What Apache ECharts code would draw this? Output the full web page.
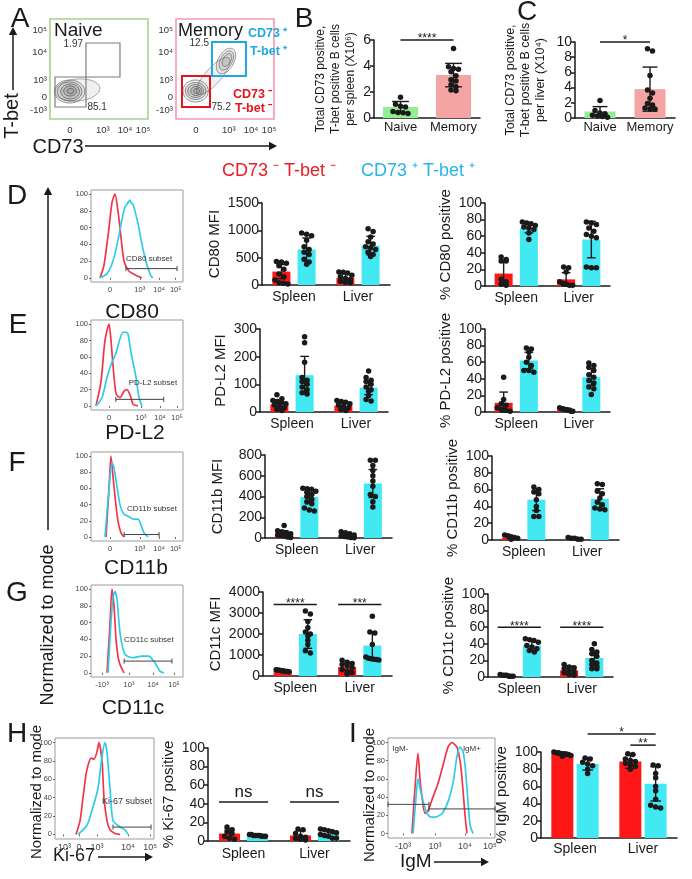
<!DOCTYPE html>
<html><head><meta charset="utf-8">
<script src="https://cdn.jsdelivr.net/npm/echarts@6/dist/echarts.min.js"></script>
<style>html,body{margin:0;padding:0;background:#fff}#c{width:692px;height:879px}</style>
</head><body><div id="c"></div>
<script>
// ================= DATA =================
const TISSUES = ['Spleen', 'Liver'];
const GROUP_NEG = 'CD73 \u207B T-bet \u207B';
const GROUP_POS = 'CD73 \u207A T-bet \u207A';

// ---- Panel A (flow plots, axis units = % of plot range) ----
const A_X_TICK_POS = [20.4, 54, 76.5, 95];
const A_X_TICK_LABELS = ['0', '10³', '10⁴', '10⁵'];
const A_Y_TICK_POS = [9, 22, 39, 67, 89];
const A_Y_TICK_LABELS = ['-10³', '0', '10³', '10⁴', '10⁵'];
// contour rings: [cx, cy, rx, ry, rotationDeg, shade]
const A_NAIVE_CONTOURS = [
  [28, 29, 23, 11, 5, 0.35], [20, 27.5, 15.5, 11.5, 0, 0.6], [20, 27.5, 12.5, 9.5, 0, 0.7],
  [20.5, 27.5, 9.5, 7.5, 0, 0.8], [20.5, 28, 6.5, 5, 0, 0.9], [21, 28, 3.5, 2.6, 0, 1]
];
const A_MEMORY_CONTOURS = [
  [38, 43, 24, 8, 48, 0.3], [20, 28, 13, 11, 0, 0.55], [20, 28, 10.5, 8.5, 0, 0.65],
  [20, 28, 8, 6.5, 0, 0.75], [20.5, 28, 5.5, 4.5, 0, 0.85], [21, 28, 3, 2.5, 0, 1],
  [51, 58, 14, 8, 60, 0.45], [51.5, 58.5, 10.5, 6, 60, 0.55], [52, 59, 7, 4, 60, 0.65]
];
// gates: [x1, y1, x2, y2]
const A_NAIVE_GATES = [[5.1, 12, 36.7, 42], [36.7, 42, 71.4, 76]];
const A_NAIVE_FREQ = [85.1, 1.97];
const A_MEMORY_GATES = [[6.1, 12, 34.7, 43], [36.7, 43, 71.4, 77]];
const A_MEMORY_FREQ = [75.2, 12.5];

// ---- Panels B, C ----
const BC_CATEGORIES = ['Naive', 'Memory'];
const B_MEAN = [0.85, 3.3];
const B_SD = [0.42, 0.9];
const B_NAIVE = [1.6, 1.05, 0.9, 0.85, 0.5, 0.42, 0.4, 0.35];
const B_MEMORY = [5.35, 3.95, 3.8, 3.75, 3.55, 3.25, 2.95, 2.85, 2.55, 2.4, 2.15, 2.1];
const B_SIG = ['****'];
const B_SIG_LEVEL = [6];
const C_MEAN = [0.85, 3.8];
const C_SD = [0.65, 2.9];
const C_NAIVE = [2.3, 1.0, 0.65, 0.55, 0.35, 0.25, 0.2, 0.1];
const C_MEMORY = [9.1, 8.8, 5.6, 3.7, 3.3, 2.6, 1.9, 1.7, 1.3, 1.2, 1.2];
const C_SIG = ['*'];
const C_SIG_LEVEL = [10];

// ---- Histograms (x = % of plot range, y = % of mode) ----
const HIST_Y_TICKS = [0, 20, 40, 60, 80, 100];
const HIST_D_X_TICKS = [20.7, 53, 74, 92];
const HIST_D_X_LABELS = ['0', '10³', '10⁴', '10⁵'];
const HIST_D_NEG = [[9.8,0],[14.1,15],[19.6,60],[22.8,90],[26.1,100],[29.3,80],[31.5,60],[35.9,20],[41.3,8],[45.7,5],[51.1,2],[55.4,0]];
const HIST_D_POS = [[9.8,0],[17.4,5],[23.9,20],[29.3,45],[33.7,70],[37,85],[39.1,88],[42.4,93],[43.5,90],[45.7,88],[48.9,75],[51.1,65],[55.4,40],[60.9,15],[65.2,2],[67.4,0]];
const HIST_D_GATE = [[38, 93.5, 11, 'CD80 subset', 38, 23]];
const HIST_E_X_TICKS = [19.6, 54.3, 75, 93.5];
const HIST_E_X_LABELS = ['0', '10³', '10⁴', '10⁵'];
const HIST_E_NEG = [[5.4,0],[10.9,30],[15.2,80],[19.6,100],[21.7,80],[23.9,50],[27.2,15],[31.5,10],[35.9,18],[39.1,20],[43.5,10],[45.7,2],[51.1,0]];
const HIST_E_POS = [[5.4,0],[12,10],[17.4,35],[21.7,50],[27.2,65],[31.5,82],[34.8,90],[38,90],[40.2,88],[43.5,65],[48.9,35],[52.2,10],[55.4,0]];
const HIST_E_GATE = [[27, 79, 8, 'PD-L2 subset', 41, 28]];
const HIST_F_X_TICKS = [20.7, 53, 74, 92];
const HIST_F_X_LABELS = ['0', '10³', '10⁴', '10⁵'];
const HIST_F_NEG = [[16.3,0],[19.6,60],[21.7,100],[23.9,75],[26.1,50],[29.3,20],[32.6,5],[35.9,0]];
const HIST_F_POS = [[15.2,0],[19.6,60],[22.8,92],[25,85],[27.2,70],[31.5,40],[35.9,28],[41.3,25],[45.7,22],[51.1,22],[54.3,15],[57.6,5],[62,0]];
const HIST_F_GATE = [[36, 74, 3, 'CD11b subset', 39, 35]];
const HIST_G_X_TICKS = [12, 41.3, 67.4, 90.2];
const HIST_G_X_LABELS = ['-10³', '10³', '10⁴', '10⁵'];
const HIST_G_NEG = [[17.4,0],[20.7,60],[22.8,100],[25,80],[27.2,40],[29.3,20],[31.5,10],[35.9,0]];
const HIST_G_POS = [[18.5,0],[21.7,60],[23.9,90],[26.1,97],[28.3,88],[30.4,60],[32.6,40],[37,22],[45.7,18],[55.4,20],[63,20],[67.4,15],[70.7,10],[75,2],[79.3,0]];
const HIST_G_GATE = [[36, 88, 14, 'CD11c subset', 36, 39]];
const HIST_H_X_TICKS = [8, 24.2, 42.4, 73.7, 96];
const HIST_H_X_LABELS = ['-10³', '0', '10³', '10⁴', '10⁵'];
const HIST_H_NEG = [[21.2,0],[25.3,15],[28.3,40],[31.3,65],[33.3,75],[36.4,83],[39.4,82],[42.4,90],[44.4,100],[47.5,80],[49.5,40],[52.5,15],[55.6,5],[60.6,1],[65.7,0]];
const HIST_H_POS = [[23.2,0],[32.3,10],[38.4,30],[43.4,50],[47.5,85],[50.5,100],[52.5,90],[55.6,50],[58.6,15],[65.7,8],[70.7,5],[73.7,0]];
const HIST_H_GATE = [[58.6, 97, 8, 'Ki-67 subset', 47.5, 36]];
const HIST_I_X_TICKS = [14, 44, 72, 95.3];
const HIST_I_X_LABELS = ['-10³', '10³', '10⁴', '10⁵'];
const HIST_I_NEG = [[22.4,0],[25.2,50],[28,88],[29.9,60],[31.8,40],[34.6,22],[37.4,25],[42,40],[46.7,55],[51.4,75],[56.1,95],[59.8,100],[64.5,95],[67.3,80],[69.2,60],[72,20],[73.8,0]];
const HIST_I_POS = [[23.4,0],[26.2,40],[28,60],[29.9,50],[31.8,40],[36.4,22],[40.2,18],[43.9,18],[50.5,22],[56.1,35],[60.7,55],[64.5,85],[67.3,95],[70.1,90],[72,75],[73.8,50],[76.6,10],[79.4,0]];
const HIST_I_GATE = [[0, 38.3, 32, 'IgM-', 4, 93], [38.3, 100, 27, 'IgM+', 70, 93]];

// ---- D: CD80 ----
const D_MFI_NEG_MEAN = [245, 130], D_MFI_NEG_SD = [130, 85];
const D_MFI_POS_MEAN = [650, 720], D_MFI_POS_SD = [210, 170];
const D_MFI_NEG_SPLEEN = [430, 420, 400, 350, 290, 200, 150, 90, 40, 30, 20];
const D_MFI_POS_SPLEEN = [950, 930, 900, 820, 700, 650, 600, 560, 470, 420, 380];
const D_MFI_NEG_LIVER = [240, 235, 220, 180, 150, 120, 100, 70, 50, 40];
const D_MFI_POS_LIVER = [1030, 980, 880, 790, 750, 700, 680, 650, 600, 560, 520];
const D_PCT_NEG_MEAN = [15, 8], D_PCT_NEG_SD = [14, 8];
const D_PCT_POS_MEAN = [70, 56], D_PCT_POS_SD = [6, 22];
const D_PCT_NEG_SPLEEN = [35, 32, 30, 30, 8, 5, 2, 1];
const D_PCT_POS_SPLEEN = [77, 76, 75, 73, 71, 70, 68, 64, 56];
const D_PCT_NEG_LIVER = [23, 22, 17, 5, 3, 2, 1, 1];
const D_PCT_POS_LIVER = [77, 76, 74, 70, 66, 62, 60, 58, 23, 22, 22];
// ---- E: PD-L2 ----
const E_MFI_NEG_MEAN = [28, 22], E_MFI_NEG_SD = [15, 12];
const E_MFI_POS_MEAN = [133, 88], E_MFI_POS_SD = [68, 25];
const E_MFI_NEG_SPLEEN = [62, 48, 42, 38, 35, 30, 25, 20, 15, 10, 5];
const E_MFI_POS_SPLEEN = [272, 250, 180, 125, 115, 110, 100, 90, 80, 70, 65];
const E_MFI_NEG_LIVER = [42, 38, 35, 30, 25, 20, 15, 10, 5];
const E_MFI_POS_LIVER = [148, 125, 115, 110, 100, 90, 80, 75, 60, 45, 40];
const E_PCT_NEG_MEAN = [11, 3], E_PCT_NEG_SD = [13, 1.5];
const E_PCT_POS_MEAN = [62, 42], E_PCT_POS_SD = [10, 10];
const E_PCT_NEG_SPLEEN = [42, 15, 10, 8, 5, 3, 2, 1];
const E_PCT_POS_SPLEEN = [77, 76, 72, 66, 60, 56, 50, 50, 48];
const E_PCT_NEG_LIVER = [5, 4, 4, 3, 3, 2, 2, 1, 1];
const E_PCT_POS_LIVER = [59, 56, 54, 50, 45, 42, 38, 35, 30, 28, 21];
// ---- F: CD11b ----
const F_MFI_NEG_MEAN = [40, 20], F_MFI_NEG_SD = [30, 18];
const F_MFI_POS_MEAN = [395, 525], F_MFI_POS_SD = [65, 135];
const F_MFI_NEG_SPLEEN = [120, 70, 60, 50, 40, 30, 25, 20, 10, 5];
const F_MFI_POS_SPLEEN = [480, 475, 470, 450, 440, 420, 400, 370, 350, 330, 290, 270, 260];
const F_MFI_NEG_LIVER = [60, 50, 40, 30, 20, 15, 10, 5, 2];
const F_MFI_POS_LIVER = [750, 750, 700, 650, 600, 550, 500, 420, 400, 350, 300];
const F_PCT_NEG_MEAN = [3, 2], F_PCT_NEG_SD = [1.5, 1];
const F_PCT_POS_MEAN = [48, 49], F_PCT_POS_SD = [13, 12];
const F_PCT_NEG_SPLEEN = [6, 5, 4, 3, 2, 1];
const F_PCT_POS_SPLEEN = [63, 60, 57, 55, 48, 40, 35, 28, 28];
const F_PCT_NEG_LIVER = [3, 2, 2, 1, 1];
const F_PCT_POS_LIVER = [67, 66, 58, 55, 50, 45, 42, 38, 37, 36];
// ---- G: CD11c ----
const G_MFI_NEG_MEAN = [250, 430], G_MFI_NEG_SD = [40, 170];
const G_MFI_POS_MEAN = [2000, 1450], G_MFI_POS_SD = [680, 650];
const G_MFI_NEG_SPLEEN = [300, 280, 270, 260, 250, 240, 230, 220, 210, 200];
const G_MFI_POS_SPLEEN = [3100, 2950, 2600, 2300, 2100, 2000, 1900, 1700, 1500, 1200, 1100];
const G_MFI_NEG_LIVER = [750, 650, 600, 550, 500, 400, 300, 200, 150, 100];
const G_MFI_POS_LIVER = [2850, 2100, 2050, 1500, 900, 850, 820, 800, 780, 760];
const G_MFI_SIG = ['****', '***'];
const G_MFI_SIG_LEVEL = [3400, 3400];
const G_PCT_NEG_MEAN = [2, 8], G_PCT_NEG_SD = [1, 5];
const G_PCT_POS_MEAN = [38, 23], G_PCT_POS_SD = [6, 8];
const G_PCT_NEG_SPLEEN = [3, 2, 2, 2, 1, 1, 1];
const G_PCT_POS_SPLEEN = [46, 45, 44, 42, 38, 36, 34, 32, 30];
const G_PCT_NEG_LIVER = [15, 12, 11, 10, 8, 6, 5, 3, 2];
const G_PCT_POS_LIVER = [40, 33, 30, 28, 25, 20, 17, 15, 13, 10, 10];
const G_PCT_SIG = ['****', '****'];
const G_PCT_SIG_LEVEL = [60, 60];
// ---- H: Ki-67 ----
const H_NEG_MEAN = [8, 6], H_NEG_SD = [5, 5];
const H_POS_MEAN = [6, 8], H_POS_SD = [1, 4];
const H_NEG_SPLEEN = [15, 12, 10, 8, 5, 3, 2];
const H_POS_SPLEEN = [7, 7, 6, 6, 6, 5, 5, 5, 6];
const H_NEG_LIVER = [13, 12, 8, 5, 4, 3, 2, 1];
const H_POS_LIVER = [13, 12, 11, 10, 9, 7, 6, 5, 3, 3];
const H_SIG = ['ns', 'ns'];
const H_SIG_LEVEL = [42, 42];
// ---- I: IgM ----
const I_NEG_MEAN = [98, 89], I_NEG_SD = [2, 8];
const I_POS_MEAN = [86, 63], I_POS_SD = [7, 20];
const I_NEG_SPLEEN = [100, 99, 99, 98, 98, 97, 97, 96, 95];
const I_POS_SPLEEN = [93, 92, 88, 86, 84, 80, 75];
const I_NEG_LIVER = [98, 97, 92, 90, 89, 87, 85, 83, 80];
const I_POS_LIVER = [85, 84, 75, 70, 60, 55, 45, 38, 36, 35];
const I_SIG = ['*', '**'];
const I_SIG_LEVEL = [121, 108];

// ================= BUILDERS =================
const FONT = '"Liberation Sans", Arial, Helvetica, sans-serif';
const INK = '#1a1a1a';
const RED = '#ff1717';
const CYAN = '#42e9f3';
const HIST_RED = '#f2364a';
const HIST_CYAN = '#2fcbeb';
const grid = [], xAxis = [], yAxis = [], series = [], graphic = [];

function labelLookup(pos, labels) {
  return v => { let best = 0, d = 1e9; pos.forEach((p, i) => { const e = Math.abs(p - v); if (e < d) { d = e; best = i; } }); return labels[best]; };
}
function jitter(vals, ppu, bw) {
  const order = vals.map((v, i) => i).sort((a, b) => vals[b] - vals[a]);
  const out = vals.map(() => 0);
  let row = [];
  const flush = () => {
    const n = row.length;
    const span = Math.min(Math.max(bw - 5, 0), (n - 1) * 5);
    row.forEach((k, j) => { out[k] = n === 1 ? 0 : -span / 2 + span * j / (n - 1); });
    row = [];
  };
  order.forEach(k => { if (row.length && (vals[row[0]] - vals[k]) * ppu > 4) flush(); row.push(k); });
  flush();
  return out;
}

function barChart(r, o) {
  const g = grid.length;
  grid.push({left: r.l, top: r.t, width: r.w, height: r.h});
  const xi = xAxis.length, yi = yAxis.length;
  xAxis.push({gridIndex: g, type: 'category', data: o.cats,
    axisLine: {lineStyle: {color: INK, width: 1.5}}, axisTick: {show: false},
    axisLabel: {fontFamily: FONT, fontSize: o.catFont || 14, color: INK, margin: o.catMargin || 5, interval: 0}});
  yAxis.push({gridIndex: g, type: 'value', min: 0, max: o.yMax, interval: o.yInt,
    splitLine: {show: false},
    axisLine: {show: true, lineStyle: {color: INK, width: 1.5}},
    axisTick: {show: true, length: 4, lineStyle: {color: INK, width: 1.5}},
    axisLabel: {fontFamily: FONT, fontSize: o.tickFont || 14, color: INK, margin: 3, formatter: v => String(v)},
    name: o.yName, nameLocation: 'middle', nameRotate: 90, nameGap: o.nameGap,
    nameTextStyle: {fontFamily: FONT, fontSize: o.nameFont || 15, color: INK, lineHeight: o.nameLH || 18}});
  const nS = o.groups.length;
  const gapPx = o.bw * o.gap;
  const offs = o.groups.map((_, s) => nS === 1 ? 0 : (s - (nS - 1) / 2) * (o.bw + gapPx));
  const ppu = r.h / o.yMax;
  o.groups.forEach((gr, s) => {
    series.push({type: 'bar', name: gr.name, xAxisIndex: xi, yAxisIndex: yi, barWidth: o.bw, barGap: (o.gap * 100) + '%', silent: true, z: 2,
      data: gr.means.map((m, i) => ({value: m, itemStyle: {color: Array.isArray(gr.color) ? gr.color[i] : gr.color}}))});
    const off = offs[s];
    series.push({type: 'custom', xAxisIndex: xi, yAxisIndex: yi, z: 3, silent: true,
      data: gr.means.map((m, i) => [i, m, gr.sds[i]]),
      renderItem: (p, api) => {
        const top = api.coord([api.value(0), api.value(1) + api.value(2)]);
        const bot = api.coord([api.value(0), Math.max(0, api.value(1) - api.value(2))]);
        const x = top[0] + off, cw = Math.max(3.5, o.bw * 0.24);
        const st = {stroke: INK, lineWidth: 1.4};
        return {type: 'group', children: [
          {type: 'line', shape: {x1: x, y1: top[1], x2: x, y2: bot[1]}, style: st},
          {type: 'line', shape: {x1: x - cw, y1: top[1], x2: x + cw, y2: top[1]}, style: st},
          {type: 'line', shape: {x1: x - cw, y1: bot[1], x2: x + cw, y2: bot[1]}, style: st}]};
      }});
    const pts = [];
    gr.points.forEach((arr, ci) => {
      const j = jitter(arr, ppu, o.bw);
      arr.forEach((v, k) => pts.push({value: [ci, v], symbolOffset: [off + j[k], 0]}));
    });
    series.push({type: 'scatter', xAxisIndex: xi, yAxisIndex: yi, z: 4, silent: true, symbol: 'circle',
      symbolSize: o.dot || 5.5, itemStyle: {color: INK, opacity: 1}, data: pts});
  });
  if (o.sig) {
    series.push({type: 'custom', xAxisIndex: xi, yAxisIndex: yi, z: 5, silent: true, clip: false,
      data: o.sig.map((sg, i) => [sg.from[0], sg.level, sg.to[0], i]),
      renderItem: (p, api) => {
        const sg = o.sig[api.value(3)];
        const a = api.coord([api.value(0), api.value(1)]);
        const b = api.coord([api.value(2), api.value(1)]);
        const ext = sg.edge ? o.bw / 2 : 0;
        const x1 = a[0] + offs[sg.from[1]] - ext, x2 = b[0] + offs[sg.to[1]] + ext;
        const ns = sg.text === 'ns';
        return {type: 'group', children: [
          {type: 'line', shape: {x1: x1, y1: a[1], x2: x2, y2: a[1]}, style: {stroke: INK, lineWidth: 1.5}},
          {type: 'text', x: (x1 + x2) / 2, y: a[1] + (ns ? -1 : 5),
            style: {text: sg.text, textAlign: 'center', textVerticalAlign: 'bottom', fontFamily: FONT, fontSize: ns ? 17 : 12, fill: INK}}]};
      }});
  }
}

function pairChart(r, o) {
  const sig = o.sigText ? o.sigText.map((t, i) => ({text: t, level: o.sigLevel[i], from: o.sigFrom ? o.sigFrom[i] : [i, 0], to: o.sigTo ? o.sigTo[i] : [i, 1], edge: o.sigEdge !== false})) : null;
  barChart(r, Object.assign({cats: TISSUES, gap: 0.4, sig: sig, groups: [
    {name: GROUP_NEG, color: RED, means: o.negMean, sds: o.negSd, points: [o.negSpleen, o.negLiver]},
    {name: GROUP_POS, color: CYAN, means: o.posMean, sds: o.posSd, points: [o.posSpleen, o.posLiver]}]}, o));
}

function histChart(r, o) {
  const g = grid.length;
  grid.push({left: r.l, top: r.t, width: r.w, height: r.h, show: true, borderColor: '#9b9b9b', borderWidth: 1});
  const xi = xAxis.length, yi = yAxis.length;
  const fs = o.font || 7.5;
  xAxis.push({gridIndex: g, type: 'value', min: 0, max: 100, splitLine: {show: false}, axisLine: {show: false},
    axisTick: {show: true, customValues: o.xTicks, length: 2, lineStyle: {color: '#666'}},
    axisLabel: {customValues: o.xTicks, formatter: labelLookup(o.xTicks, o.xLabels), fontFamily: FONT, fontSize: o.xFont || fs, color: '#444', margin: 4}});
  yAxis.push({gridIndex: g, type: 'value', min: -5, max: 105, splitLine: {show: false}, axisLine: {show: false},
    axisTick: {show: true, customValues: HIST_Y_TICKS, length: 2, lineStyle: {color: '#666'}},
    axisLabel: {customValues: HIST_Y_TICKS, fontFamily: FONT, fontSize: fs, color: '#444', margin: 3}});
  [[o.neg, HIST_RED], [o.pos, HIST_CYAN]].forEach(([d, c]) => series.push({type: 'line', xAxisIndex: xi, yAxisIndex: yi,
    data: d, symbol: 'none', smooth: 0.25, silent: true, lineStyle: {color: c, width: 1.7}, z: 3}));
  series.push({type: 'custom', xAxisIndex: xi, yAxisIndex: yi, z: 4, silent: true,
    data: o.gates.map((gt, i) => [gt[0], gt[2], gt[1], i]),
    renderItem: (p, api) => {
      const gt = o.gates[api.value(3)];
      const a = api.coord([gt[0], gt[2]]), b = api.coord([gt[1], gt[2]]);
      const lp = api.coord([gt[4], gt[5]]);
      const st = {stroke: '#444', lineWidth: 1};
      return {type: 'group', children: [
        {type: 'line', shape: {x1: a[0], y1: a[1], x2: b[0], y2: b[1]}, style: st},
        {type: 'line', shape: {x1: a[0], y1: a[1] - 2.5, x2: a[0], y2: a[1] + 2.5}, style: st},
        {type: 'line', shape: {x1: b[0], y1: b[1] - 2.5, x2: b[0], y2: b[1] + 2.5}, style: st},
        {type: 'text', x: lp[0], y: lp[1], style: {text: gt[3], textAlign: 'left', textVerticalAlign: 'middle', fontFamily: FONT, fontSize: o.gateFont || 8, fill: '#333'}}]};
    }});
}

function flowChart(r, o) {
  const g = grid.length;
  grid.push({left: r.l, top: r.t, width: r.w, height: r.h, show: true, borderColor: o.border, borderWidth: 1.6});
  const xi = xAxis.length, yi = yAxis.length;
  xAxis.push({gridIndex: g, type: 'value', min: 0, max: 100, splitLine: {show: false}, axisLine: {show: false}, axisTick: {show: false},
    axisLabel: {customValues: A_X_TICK_POS, formatter: labelLookup(A_X_TICK_POS, A_X_TICK_LABELS), fontFamily: FONT, fontSize: 9.5, color: '#333', margin: 6}});
  yAxis.push({gridIndex: g, type: 'value', min: 0, max: 100, splitLine: {show: false}, axisLine: {show: false}, axisTick: {show: false},
    axisLabel: {customValues: A_Y_TICK_POS, formatter: labelLookup(A_Y_TICK_POS, A_Y_TICK_LABELS), fontFamily: FONT, fontSize: 9.5, color: '#333', margin: 3}});
  series.push({type: 'custom', xAxisIndex: xi, yAxisIndex: yi, z: 2, silent: true, data: o.contours,
    renderItem: (p, api) => {
      const cx = api.value(0), cy = api.value(1), rx = api.value(2), ry = api.value(3), rot = api.value(4) * Math.PI / 180, sh = api.value(5);
      const pts = [];
      for (let k = 0; k <= 48; k++) {
        const t = k / 48 * 2 * Math.PI, ex = rx * Math.cos(t), ey = ry * Math.sin(t);
        pts.push(api.coord([cx + ex * Math.cos(rot) - ey * Math.sin(rot), cy + ex * Math.sin(rot) + ey * Math.cos(rot)]));
      }
      return {type: 'polygon', shape: {points: pts}, style: {fill: 'rgba(70,70,70,' + (0.06 + 0.06 * sh) + ')', stroke: 'rgba(80,80,80,' + (0.35 + 0.55 * sh) + ')', lineWidth: 0.9}};
    }});
  series.push({type: 'custom', xAxisIndex: xi, yAxisIndex: yi, z: 3, silent: true,
    data: o.gates.map((gt, i) => [gt[0], gt[1], gt[2], gt[3], i]),
    renderItem: (p, api) => {
      const i = api.value(4), gt = o.gates[i];
      const a = api.coord([gt[0], gt[3]]), b = api.coord([gt[2], gt[1]]);
      const lower = i === 0;
      const lp = lower ? api.coord([gt[2] + 1.5, gt[1]]) : api.coord([gt[0] - 3, gt[3] - 1]);
      return {type: 'group', children: [
        {type: 'rect', shape: {x: a[0], y: a[1], width: b[0] - a[0], height: b[1] - a[1]}, style: {fill: 'none', stroke: o.gateColors[i], lineWidth: o.gateWidth}},
        {type: 'text', x: lp[0], y: lp[1], style: {text: String(o.freq[i]), textAlign: lower ? 'left' : 'right', textVerticalAlign: 'middle', fontFamily: FONT, fontSize: 10, fill: '#333'}}]};
    }});
}

// ================= LAYOUT =================
flowChart({l: 50, t: 19, w: 98, h: 100}, {border: '#a9d18e', contours: A_NAIVE_CONTOURS, gates: A_NAIVE_GATES, freq: A_NAIVE_FREQ, gateColors: ['#7d7d7d', '#7d7d7d'], gateWidth: 1.2});
flowChart({l: 176, t: 19, w: 98, h: 100}, {border: '#f598b0', contours: A_MEMORY_CONTOURS, gates: A_MEMORY_GATES, freq: A_MEMORY_FREQ, gateColors: ['#e3141c', '#1ea9e0'], gateWidth: 2});

barChart({l: 374, t: 40, w: 106, h: 78}, {cats: BC_CATEGORIES, yMax: 6, yInt: 2, bw: 35, gap: 0, catFont: 13, catMargin: 3,
  yName: 'Total CD73 positive,\nT-bet positive B cells\nper spleen (X10⁶)', nameGap: 16, nameFont: 12, nameLH: 15,
  groups: [{name: 'bc', color: ['#92ee92', '#f5a4a4'], means: B_MEAN, sds: B_SD, points: [B_NAIVE, B_MEMORY]}],
  sig: B_SIG.map((t, i) => ({text: t, level: B_SIG_LEVEL[i], from: [0, 0], to: [1, 0], edge: false}))});
barChart({l: 575, t: 42, w: 100, h: 76}, {cats: BC_CATEGORIES, yMax: 10, yInt: 2, bw: 31, gap: 0, catFont: 13, catMargin: 3,
  yName: 'Total CD73 positive,\nT-bet positive B cells\nper liver (X10⁴)', nameGap: 27, nameFont: 12.5, nameLH: 15,
  groups: [{name: 'bc', color: ['#92ee92', '#f5a4a4'], means: C_MEAN, sds: C_SD, points: [C_NAIVE, C_MEMORY]}],
  sig: C_SIG.map((t, i) => ({text: t, level: C_SIG_LEVEL[i], from: [0, 0], to: [1, 0], edge: false}))});

histChart({l: 91, t: 190, w: 92, h: 92}, {xTicks: HIST_D_X_TICKS, xLabels: HIST_D_X_LABELS, neg: HIST_D_NEG, pos: HIST_D_POS, gates: HIST_D_GATE});
histChart({l: 91, t: 320, w: 92, h: 90}, {xTicks: HIST_E_X_TICKS, xLabels: HIST_E_X_LABELS, neg: HIST_E_NEG, pos: HIST_E_POS, gates: HIST_E_GATE});
histChart({l: 91, t: 452, w: 92, h: 89}, {xTicks: HIST_F_X_TICKS, xLabels: HIST_F_X_LABELS, neg: HIST_F_NEG, pos: HIST_F_POS, gates: HIST_F_GATE});
histChart({l: 91, t: 585, w: 92, h: 92}, {xTicks: HIST_G_X_TICKS, xLabels: HIST_G_X_LABELS, neg: HIST_G_NEG, pos: HIST_G_POS, gates: HIST_G_GATE});
histChart({l: 55, t: 738, w: 99, h: 101}, {xTicks: HIST_H_X_TICKS, xLabels: HIST_H_X_LABELS, neg: HIST_H_NEG, pos: HIST_H_POS, gates: HIST_H_GATE, xFont: 9, gateFont: 9});
histChart({l: 388, t: 738, w: 107, h: 100}, {xTicks: HIST_I_X_TICKS, xLabels: HIST_I_X_LABELS, neg: HIST_I_NEG, pos: HIST_I_POS, gates: HIST_I_GATE, xFont: 9, gateFont: 8});

pairChart({l: 262, t: 203, w: 128, h: 82}, {yMax: 1500, yInt: 500, bw: 18, yName: 'CD80 MFI', nameGap: 35,
  negMean: D_MFI_NEG_MEAN, negSd: D_MFI_NEG_SD, posMean: D_MFI_POS_MEAN, posSd: D_MFI_POS_SD,
  negSpleen: D_MFI_NEG_SPLEEN, negLiver: D_MFI_NEG_LIVER, posSpleen: D_MFI_POS_SPLEEN, posLiver: D_MFI_POS_LIVER});
pairChart({l: 485, t: 203, w: 125, h: 83}, {yMax: 100, yInt: 20, bw: 18, yName: '% CD80 positive', nameGap: 29,
  negMean: D_PCT_NEG_MEAN, negSd: D_PCT_NEG_SD, posMean: D_PCT_POS_MEAN, posSd: D_PCT_POS_SD,
  negSpleen: D_PCT_NEG_SPLEEN, negLiver: D_PCT_NEG_LIVER, posSpleen: D_PCT_POS_SPLEEN, posLiver: D_PCT_POS_LIVER});
pairChart({l: 260, t: 329, w: 128, h: 83}, {yMax: 300, yInt: 100, bw: 18, yName: 'PD-L2 MFI', nameGap: 24,
  negMean: E_MFI_NEG_MEAN, negSd: E_MFI_NEG_SD, posMean: E_MFI_POS_MEAN, posSd: E_MFI_POS_SD,
  negSpleen: E_MFI_NEG_SPLEEN, negLiver: E_MFI_NEG_LIVER, posSpleen: E_MFI_POS_SPLEEN, posLiver: E_MFI_POS_LIVER});
pairChart({l: 485, t: 329, w: 125, h: 83}, {yMax: 100, yInt: 20, bw: 18, yName: '% PD-L2 positive', nameGap: 29,
  negMean: E_PCT_NEG_MEAN, negSd: E_PCT_NEG_SD, posMean: E_PCT_POS_MEAN, posSd: E_PCT_POS_SD,
  negSpleen: E_PCT_NEG_SPLEEN, negLiver: E_PCT_NEG_LIVER, posSpleen: E_PCT_POS_SPLEEN, posLiver: E_PCT_POS_LIVER});
pairChart({l: 265, t: 455, w: 127, h: 83}, {yMax: 800, yInt: 200, bw: 18, yName: 'CD11b MFI', nameGap: 38,
  negMean: F_MFI_NEG_MEAN, negSd: F_MFI_NEG_SD, posMean: F_MFI_POS_MEAN, posSd: F_MFI_POS_SD,
  negSpleen: F_MFI_NEG_SPLEEN, negLiver: F_MFI_NEG_LIVER, posSpleen: F_MFI_POS_SPLEEN, posLiver: F_MFI_POS_LIVER});
pairChart({l: 492, t: 456, w: 127, h: 84}, {yMax: 100, yInt: 20, bw: 18, yName: '% CD11b positive', nameGap: 29,
  negMean: F_PCT_NEG_MEAN, negSd: F_PCT_NEG_SD, posMean: F_PCT_POS_MEAN, posSd: F_PCT_POS_SD,
  negSpleen: F_PCT_NEG_SPLEEN, negLiver: F_PCT_NEG_LIVER, posSpleen: F_PCT_POS_SPLEEN, posLiver: F_PCT_POS_LIVER});
pairChart({l: 263, t: 592, w: 129, h: 84}, {yMax: 4000, yInt: 1000, bw: 18, yName: 'CD11c MFI', nameGap: 32,
  negMean: G_MFI_NEG_MEAN, negSd: G_MFI_NEG_SD, posMean: G_MFI_POS_MEAN, posSd: G_MFI_POS_SD,
  negSpleen: G_MFI_NEG_SPLEEN, negLiver: G_MFI_NEG_LIVER, posSpleen: G_MFI_POS_SPLEEN, posLiver: G_MFI_POS_LIVER,
  sigText: G_MFI_SIG, sigLevel: G_MFI_SIG_LEVEL});
pairChart({l: 488, t: 594, w: 125, h: 83}, {yMax: 100, yInt: 20, bw: 18, yName: '% CD11c positive', nameGap: 27,
  negMean: G_PCT_NEG_MEAN, negSd: G_PCT_NEG_SD, posMean: G_PCT_POS_MEAN, posSd: G_PCT_POS_SD,
  negSpleen: G_PCT_NEG_SPLEEN, negLiver: G_PCT_NEG_LIVER, posSpleen: G_PCT_POS_SPLEEN, posLiver: G_PCT_POS_LIVER,
  sigText: G_PCT_SIG, sigLevel: G_PCT_SIG_LEVEL});
pairChart({l: 208, t: 748, w: 142, h: 93}, {yMax: 100, yInt: 20, bw: 21, gap: 0.33, yName: '% Ki-67 positive', nameGap: 27,
  negMean: H_NEG_MEAN, negSd: H_NEG_SD, posMean: H_POS_MEAN, posSd: H_POS_SD,
  negSpleen: H_NEG_SPLEEN, negLiver: H_NEG_LIVER, posSpleen: H_POS_SPLEEN, posLiver: H_POS_LIVER,
  sigText: H_SIG, sigLevel: H_SIG_LEVEL, catMargin: 6});
pairChart({l: 541, t: 752, w: 136, h: 86}, {yMax: 100, yInt: 20, bw: 22, gap: 0.15, yName: '% IgM positive', nameGap: 28,
  negMean: I_NEG_MEAN, negSd: I_NEG_SD, posMean: I_POS_MEAN, posSd: I_POS_SD,
  negSpleen: I_NEG_SPLEEN, negLiver: I_NEG_LIVER, posSpleen: I_POS_SPLEEN, posLiver: I_POS_LIVER,
  sigText: I_SIG, sigLevel: I_SIG_LEVEL, sigFrom: [[0, 1], [1, 0]], sigTo: [[1, 1], [1, 1]], sigEdge: false, catMargin: 4});

// ================= TEXT & ARROWS =================
function T(text, x, y, size, o) {
  o = o || {};
  graphic.push({type: 'text', x: x, y: y, rotation: o.rot || 0, silent: true,
    style: {text: text, fontFamily: FONT, fontSize: size, fontWeight: o.bold ? 'bold' : 'normal', fill: o.color || INK,
      textAlign: o.align || 'center', textVerticalAlign: 'middle'}});
}
function arrow(x1, y1, x2, y2) {
  const ang = Math.atan2(y2 - y1, x2 - x1), L = 8, W = 4.2;
  const bx = x2 - L * Math.cos(ang), by = y2 - L * Math.sin(ang);
  graphic.push({type: 'line', silent: true, shape: {x1: x1, y1: y1, x2: bx, y2: by}, style: {stroke: INK, lineWidth: 1.5}});
  graphic.push({type: 'polygon', silent: true, shape: {points: [[x2, y2], [bx - W * Math.sin(ang), by + W * Math.cos(ang)], [bx + W * Math.sin(ang), by - W * Math.cos(ang)]]}, style: {fill: INK}});
}
[['A', 20, 19], ['B', 304, 19], ['C', 527, 12], ['D', 17, 196], ['E', 18, 325], ['F', 17, 463], ['G', 17, 593], ['H', 17, 734], ['I', 353, 734]]
  .forEach(([t, x, y]) => T(t, x, y, 28));
T('Naive', 54, 31, 19, {align: 'left'});
T('Memory', 178, 31, 18, {align: 'left'});
T('CD73 ⁺', 248, 34, 12.5, {align: 'left', bold: true, color: '#1fa9e1'});
T('T-bet ⁺', 250, 52, 12.5, {align: 'left', bold: true, color: '#1fa9e1'});
T('CD73 ⁻', 233, 95, 12.5, {align: 'left', bold: true, color: '#e3141c'});
T('T-bet ⁻', 235, 109, 12.5, {align: 'left', bold: true, color: '#e3141c'});
T('T-bet', 12, 116, 20, {rot: Math.PI / 2});
arrow(13, 90, 13, 27);
T('CD73', 58, 147, 20);
arrow(85, 146, 277, 146);
T('CD80', 132, 312, 21);
T('PD-L2', 135, 433, 21);
T('CD11b', 136, 568, 21);
T('CD11c', 133, 708, 21);
T('Normalized to mode', 48, 625, 18, {rot: Math.PI / 2});
arrow(48, 530, 48, 187);
T('Normalized to mode', 37, 792, 15, {rot: Math.PI / 2});
T('Ki-67', 53, 856, 18, {align: 'left'});
arrow(98, 857, 153, 857);
T('Normalized to mode', 370, 795, 15, {rot: Math.PI / 2});
T('IgM', 400, 862, 19, {align: 'left'});
arrow(434, 862, 489, 862);

const chart = echarts.init(document.getElementById('c'));
chart.setOption({
  backgroundColor: '#fff',
  animation: false,
  legend: {top: 157, left: 'center', itemWidth: 0, itemHeight: 0, itemGap: 20, selectedMode: false,
    textStyle: {fontFamily: FONT, fontSize: 18},
    data: [{name: GROUP_NEG, textStyle: {color: '#ec1c24'}}, {name: GROUP_POS, textStyle: {color: '#28b4e6'}}]},
  grid: grid, xAxis: xAxis, yAxis: yAxis, series: series, graphic: graphic
});
</script></body></html>
